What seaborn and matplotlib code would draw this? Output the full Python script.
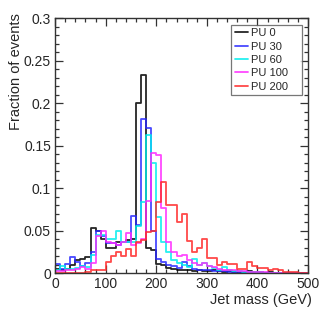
import numpy as np
import pandas as pd
import matplotlib
matplotlib.use("Agg")
import matplotlib.pyplot as plt
import seaborn as sns
from matplotlib.ticker import MultipleLocator, FuncFormatter

# bins of 10 GeV from 0 to 500
bin_centers = np.arange(5, 500, 10)

pu0 = [0.005, 0.003, 0.005, 0.010, 0.015, 0.017, 0.019, 0.053, 0.050, 0.040,
       0.030, 0.030, 0.036, 0.037, 0.039, 0.040, 0.200, 0.233, 0.029, 0.027,
       0.011, 0.009, 0.006, 0.005, 0.004, 0.003, 0.004, 0.002, 0.003, 0.002,
       0.002, 0.003, 0.002, 0.001, 0.002, 0.001, 0.001, 0.001, 0.002, 0.001,
       0.001, 0.000, 0.001, 0.000, 0.000, 0.000, 0.000, 0.000, 0.000, 0.000]
pu30 = [0.011, 0.005, 0.011, 0.019, 0.013, 0.008, 0.012, 0.025, 0.049, 0.043,
        0.035, 0.035, 0.033, 0.037, 0.037, 0.067, 0.057, 0.181, 0.171, 0.050,
        0.017, 0.013, 0.010, 0.008, 0.006, 0.013, 0.008, 0.005, 0.004, 0.003,
        0.003, 0.002, 0.002, 0.002, 0.001, 0.001, 0.001, 0.001, 0.001, 0.000,
        0.000, 0.000, 0.000, 0.000, 0.000, 0.000, 0.000, 0.000, 0.000, 0.000]
pu60 = [0.003, 0.008, 0.005, 0.005, 0.006, 0.008, 0.007, 0.021, 0.045, 0.045,
        0.040, 0.040, 0.049, 0.037, 0.037, 0.037, 0.055, 0.083, 0.162, 0.129,
        0.066, 0.037, 0.025, 0.015, 0.012, 0.010, 0.007, 0.017, 0.010, 0.012,
        0.008, 0.006, 0.004, 0.007, 0.004, 0.002, 0.002, 0.001, 0.001, 0.001,
        0.001, 0.000, 0.000, 0.000, 0.000, 0.000, 0.000, 0.000, 0.000, 0.000]
pu100 = [0.002, 0.002, 0.003, 0.004, 0.005, 0.007, 0.005, 0.012, 0.043, 0.049,
         0.037, 0.035, 0.033, 0.037, 0.047, 0.033, 0.035, 0.040, 0.085, 0.141,
         0.139, 0.076, 0.037, 0.025, 0.020, 0.021, 0.015, 0.012, 0.010, 0.012,
         0.008, 0.007, 0.005, 0.004, 0.004, 0.003, 0.002, 0.002, 0.001, 0.001,
         0.001, 0.001, 0.000, 0.000, 0.000, 0.000, 0.000, 0.000, 0.000, 0.000]
pu200 = [0.000, 0.000, 0.000, 0.000, 0.000, 0.000, 0.001, 0.003, 0.003, 0.003,
         0.013, 0.020, 0.025, 0.020, 0.028, 0.020, 0.036, 0.039, 0.048, 0.050,
         0.084, 0.107, 0.080, 0.080, 0.060, 0.070, 0.038, 0.025, 0.030, 0.040,
         0.018, 0.018, 0.009, 0.013, 0.011, 0.011, 0.005, 0.005, 0.013, 0.008,
         0.006, 0.006, 0.003, 0.005, 0.003, 0.001, 0.001, 0.001, 0.000, 0.000]

labels = ["PU 0", "PU 30", "PU 60", "PU 100", "PU 200"]
colors = ["black", "#2a2aff", "#00eeee", "#ff2aff", "#ff2a2a"]
series = [pu0, pu30, pu60, pu100, pu200]

sns.set_style("ticks")
plt.rcParams['font.family'] = ['Liberation Sans', 'DejaVu Sans']

fig = plt.figure(figsize=(3.32, 3.16), dpi=100)
ax = fig.add_axes([0.166, 0.136, 0.762, 0.807])

for lab, col, vals in zip(labels, colors, series):
    df = pd.DataFrame({"mass": bin_centers, "frac": vals})
    sns.histplot(data=df, x="mass", weights="frac", binwidth=10,
                 binrange=(0, 500), element="step", fill=False, color=col,
                 linewidth=1.3, alpha=0.85, label=lab, ax=ax)

ax.set_xlim(0, 500)
ax.set_ylim(0, 0.3)
ax.xaxis.set_major_locator(MultipleLocator(100))
ax.xaxis.set_minor_locator(MultipleLocator(20))
ax.yaxis.set_major_locator(MultipleLocator(0.05))
ax.yaxis.set_minor_locator(MultipleLocator(0.01))
ax.yaxis.set_major_formatter(FuncFormatter(lambda v, p: "%g" % round(v, 3)))
ax.tick_params(which="both", direction="in", top=True, right=True,
               labelsize=10, color="#333333")
ax.tick_params(which="major", length=6, width=0.9, pad=3)
ax.tick_params(which="minor", length=3, width=0.9)
for s in ax.spines.values():
    s.set_linewidth(1.0)
    s.set_color("#333333")

ax.set_xlabel("Jet mass (GeV)", loc="right", fontsize=10.5)
ax.xaxis.set_label_coords(1.015, -0.078)
ax.set_ylabel("Fraction of events", loc="top", fontsize=10.5)
ax.yaxis.set_label_coords(-0.128, 1.02)

leg = ax.legend(loc="upper left", bbox_to_anchor=(0.696, 0.973, 0.28, 0.0),
                mode="expand", fontsize=8, frameon=True, fancybox=False,
                edgecolor="#555555", handlelength=1.2, handletextpad=0.25,
                borderpad=0.3, labelspacing=0.3, borderaxespad=0)
leg.get_frame().set_linewidth(0.9)

fig.savefig("out.png", dpi=100)
